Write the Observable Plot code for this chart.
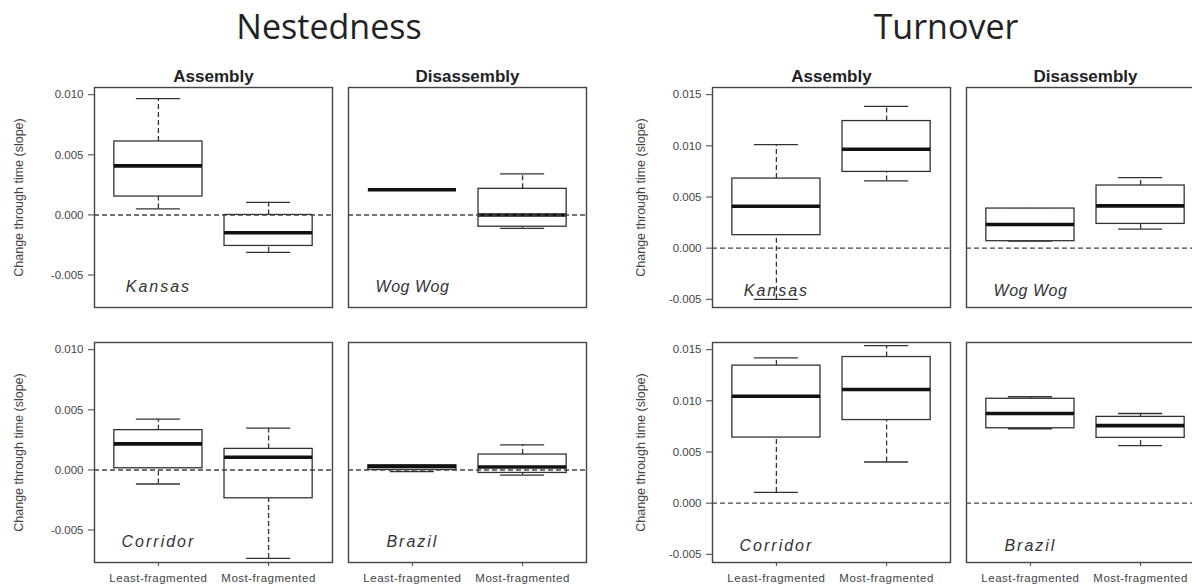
<!DOCTYPE html>
<html><head><meta charset="utf-8">
<script src="https://cdn.jsdelivr.net/npm/d3@7"></script>
<script src="https://cdn.jsdelivr.net/npm/@observablehq/plot@0.6"></script>
<style>
body{margin:0;background:#fff;overflow:hidden}
#wrap{position:relative;width:1192px;height:585px;overflow:hidden;background:#fff;font-family:"Liberation Sans",Arial,sans-serif}
.main{position:absolute;top:9px;line-height:34px;font-family:"Open Sans",sans-serif;font-size:34px;color:#222;transform:translateX(-50%);white-space:nowrap}
.panel{position:absolute}
.panel svg{overflow:visible;max-width:none !important}
</style></head><body><div id="wrap"></div>
<script>
const categories = ["Least-fragmented", "Most-fragmented"];
const metrics = ["Nestedness", "Turnover"];
const phases = ["Assembly", "Disassembly"];
const sites = ["Kansas", "Wog Wog", "Corridor", "Brazil"];
const yLabel = "Change through time (slope)";
// five-number summaries [min, q1, median, q3, max], one per category
const nestKansas   = [[0.0005, 0.00153, 0.00408, 0.00611, 0.00967], [-0.00311, -0.00258, -0.00148, 0.0, 0.00105]];
const nestWogWog   = [[0.0021, 0.0021, 0.0021, 0.0021, 0.0021], [-0.00111, -0.00098, 0.0, 0.00217, 0.00342]];
const nestCorridor = [[-0.00117, 0.00014, 0.00217, 0.00331, 0.00422], [-0.00736, -0.00236, 0.00106, 0.00175, 0.00347]];
const nestBrazil   = [[-0.00014, 0.0, 0.00028, 0.00039, 0.00039], [-0.00044, -0.00025, 0.00025, 0.00128, 0.00208]];
const turnKansas   = [[-0.005, 0.00127, 0.0041, 0.0068, 0.01012], [0.00657, 0.00745, 0.00966, 0.01242, 0.01385]];
const turnWogWog   = [[0.00068, 0.00068, 0.00231, 0.00387, 0.00387], [0.00185, 0.00237, 0.00413, 0.00612, 0.0069]];
const turnCorridor = [[0.00105, 0.00641, 0.01045, 0.01344, 0.01419], [0.00402, 0.00812, 0.0111, 0.01428, 0.0154]];
const turnBrazil   = [[0.00727, 0.00732, 0.00876, 0.0102, 0.0104], [0.00563, 0.00638, 0.00758, 0.00843, 0.00876]];
const nestTicks = [-0.005, 0, 0.005, 0.010];
const turnTicks = [-0.005, 0, 0.005, 0.010, 0.015];
const nestDomain = [-0.0077, 0.0106];
const turnDomain = [-0.0058, 0.0157];
const nestSiteY = -0.006;
const turnSiteY = -0.0042;

const wrap = document.getElementById("wrap");
const FONT = '"Liberation Sans", Arial, sans-serif';

function addTitle(text, cx) {
  const d = document.createElement("div");
  d.className = "main";
  d.textContent = text;
  d.style.left = cx + "px";
  wrap.appendChild(d);
}

function panel(o) {
  const fw = 238, fh = 220;
  const ml = o.showY ? o.ml : 2, mr = 2;
  const mt = o.phase ? 32 : 4, mb = o.showX ? 28 : 2;
  const rows = o.stats.map((s, i) => ({x: i + 1, min: s[0], q1: s[1], med: s[2], q3: s[3], max: s[4]}));
  const stroke = "#333";
  const chart = Plot.plot({
    width: ml + fw + mr, height: mt + fh + mb,
    marginLeft: ml, marginRight: mr, marginTop: mt, marginBottom: mb,
    style: {fontFamily: FONT, fontSize: "11.5px", color: "#444", background: "transparent"},
    x: {domain: [0.42, 2.58], axis: null},
    y: {domain: o.domain, axis: null},
    marks: [
      o.showY ? Plot.axisY({ticks: o.ticks, tickFormat: d => d.toFixed(3), tickSize: 6, tickPadding: 5,
        label: yLabel, labelAnchor: "center", labelArrow: "none", labelOffset: o.labelOffset, fontSize: 11.5}) : null,
      o.showX ? Plot.axisX({ticks: [1, 2], tickFormat: d => categories[d - 1], tickSize: 4, tickPadding: 7, label: null, fontSize: 11.5}) : null,
      Plot.ruleX(rows, {x: "x", y1: "q3", y2: "max", stroke, strokeWidth: 1.3, strokeDasharray: "5,3"}),
      Plot.ruleX(rows, {x: "x", y1: "min", y2: "q1", stroke, strokeWidth: 1.3, strokeDasharray: "5,3"}),
      Plot.ruleY(rows, {y: "max", x1: d => d.x - 0.2, x2: d => d.x + 0.2, stroke, strokeWidth: 1.3}),
      Plot.ruleY(rows, {y: "min", x1: d => d.x - 0.2, x2: d => d.x + 0.2, stroke, strokeWidth: 1.3}),
      Plot.rect(rows, {x1: d => d.x - 0.4, x2: d => d.x + 0.4, y1: "q1", y2: "q3", fill: "white", stroke, strokeWidth: 1.3}),
      Plot.ruleY(rows, {y: "med", x1: d => d.x - 0.4, x2: d => d.x + 0.4, stroke: "#111", strokeWidth: 3.6}),
      Plot.ruleY([0], {stroke: "#444", strokeWidth: 1.4, strokeDasharray: "5,3"}),
      Plot.text([o.site], {x: 1, y: o.siteY, text: d => d, fontStyle: "italic", fontSize: 16, fill: "#333"}),
      Plot.frame({stroke: "#444", strokeWidth: 1.4}),
      o.phase ? Plot.text([o.phase], {frameAnchor: "top", dy: -6, lineAnchor: "bottom", fontWeight: "bold", fontSize: 17, fill: "#222"}) : null
    ]
  });
  const svg = d3.select(chart);
  svg.selectAll("text").filter(function() { return this.textContent === o.site; })
    .attr("letter-spacing", o.site === "Wog Wog" ? 0.5 : 2);
  svg.selectAll("text").filter(function() { return this.textContent === yLabel; })
    .attr("font-size", "12.5px");
  svg.selectAll("text").filter(function() { return categories.includes(this.textContent); })
    .attr("letter-spacing", 0.5);
  const div = document.createElement("div");
  div.className = "panel";
  div.style.left = (o.fx - ml) + "px";
  div.style.top = (o.fy - mt) + "px";
  div.style.width = (ml + fw + mr) + "px";
  div.appendChild(chart);
  wrap.appendChild(div);
}

addTitle(metrics[0], 329);
addTitle(metrics[1], 946);

const groups = [
  {x0: 94, x1: 348, ml: 94, labelOffset: 80, ticks: nestTicks, domain: nestDomain, siteY: nestSiteY,
   stats: [nestKansas, nestWogWog, nestCorridor, nestBrazil]},
  {x0: 712, x1: 966, ml: 112, labelOffset: 76, ticks: turnTicks, domain: turnDomain, siteY: turnSiteY,
   stats: [turnKansas, turnWogWog, turnCorridor, turnBrazil]}
];
const rowY = [87, 342];
groups.forEach(g => {
  for (let r = 0; r < 2; r++) {
    for (let c = 0; c < 2; c++) {
      const k = r * 2 + c;
      panel({
        fx: c === 0 ? g.x0 : g.x1, fy: rowY[r], ml: g.ml, labelOffset: g.labelOffset,
        showY: c === 0, showX: r === 1, phase: r === 0 ? phases[c] : null,
        ticks: g.ticks, domain: g.domain, siteY: g.siteY, site: sites[k], stats: g.stats[k]
      });
    }
  }
});
</script></body></html>
